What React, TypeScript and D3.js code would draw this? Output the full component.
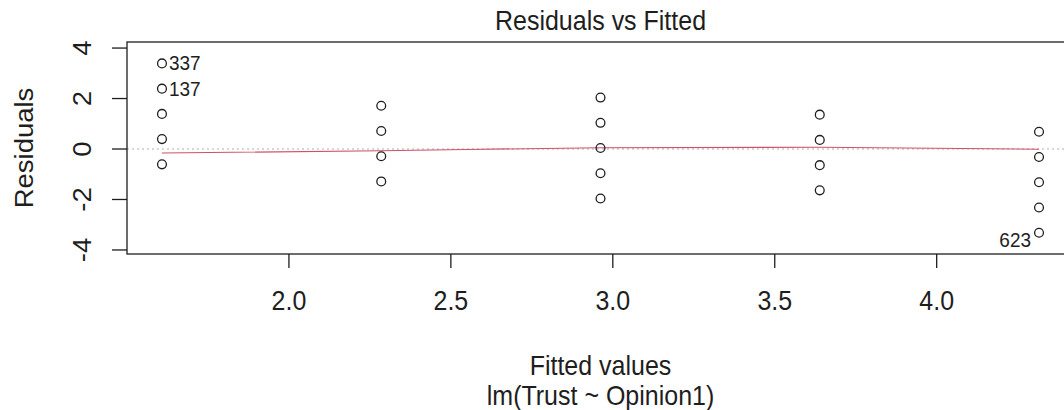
import React, { useEffect } from "react";
import * as d3 from "d3";

const fittedLevels = [1.608, 2.285, 2.962, 3.639, 4.316];
const residualsByLevel = [
  [3.392, 2.392, 1.392, 0.392, -0.608],
  [1.715, 0.715, -0.285, -1.285],
  [2.038, 1.038, 0.038, -0.962, -1.962],
  [1.361, 0.361, -0.639, -1.639],
  [0.684, -0.316, -1.316, -2.316, -3.316],
];
const smoothValues = [-0.16, -0.07, 0.05, 0.07, -0.01];
const labeledPoints = [
  { id: "337", level: 0, r: 3.392, side: "right" },
  { id: "137", level: 0, r: 2.392, side: "right" },
  { id: "623", level: 4, r: -3.316, side: "left" },
];
const xTicks = [2.0, 2.5, 3.0, 3.5, 4.0];
const yTicks = [-4, -2, 0, 2, 4];
const xDomain = [1.5, 4.424];
const yDomain = [-4.16, 4.24];

const W = 1064;
const H = 410;
const FONT = "'Liberation Sans', Arial, Helvetica, sans-serif";
const INK = "#1e1e1e";
const SY = 1.1;

function T({
  x,
  y,
  rot = 0,
  anchor = "middle",
  size = 25,
  children,
}: {
  x: number;
  y: number;
  rot?: number;
  anchor?: string;
  size?: number;
  children: React.ReactNode;
}) {
  return (
    <text
      transform={`translate(${x},${y}) scale(1,${SY}) rotate(${rot})`}
      textAnchor={anchor}
      fontFamily={FONT}
      fontSize={size}
      fill={INK}
    >
      {children}
    </text>
  );
}

export default function App() {
  useEffect(() => {
    document.body.style.margin = "0";
  }, []);

  const x = d3.scaleLinear().domain(xDomain).range([127, 1074]);
  const y = d3.scaleLinear().domain(yDomain).range([254, 42]);

  const points: { fx: number; r: number }[] = [];
  fittedLevels.forEach((fx, i) =>
    residualsByLevel[i].forEach((r) => points.push({ fx, r }))
  );

  const smoothLine = d3
    .line<number>()
    .x((_, i) => x(fittedLevels[i]))
    .y((d) => y(d))
    .curve(d3.curveMonotoneX)(smoothValues);

  const [x0, x1] = x.range();
  const [yb, yt] = y.range();
  const cx = (x0 + x1) / 2;

  return (
    <svg width={W} height={H} style={{ display: "block", background: "#fff" }}>
      <T x={cx} y={30}>Residuals vs Fitted</T>

      <line
        x1={x0}
        x2={x1}
        y1={y(0)}
        y2={y(0)}
        stroke="#b0b0b0"
        strokeWidth={1}
        strokeDasharray="2,3"
      />

      <path d={smoothLine || ""} fill="none" stroke="#D0506A" strokeWidth={1.1} />

      {points.map((p, i) => (
        <circle
          key={i}
          cx={x(p.fx)}
          cy={y(p.r)}
          r={4.4}
          fill="none"
          stroke={INK}
          strokeWidth={1.3}
        />
      ))}

      {labeledPoints.map((lp) => {
        const px = x(fittedLevels[lp.level]);
        const py = y(lp.r);
        const right = lp.side === "right";
        return (
          <T
            key={lp.id}
            x={right ? px + 7 : px - 8}
            y={right ? py + 7 : py + 14}
            anchor={right ? "start" : "end"}
            size={19}
          >
            {lp.id}
          </T>
        );
      })}

      <rect
        x={x0}
        y={yt}
        width={x1 - x0}
        height={yb - yt}
        fill="none"
        stroke={INK}
        strokeWidth={1.3}
      />

      {xTicks.map((t) => (
        <g key={t}>
          <line x1={x(t)} x2={x(t)} y1={yb} y2={yb + 14} stroke={INK} strokeWidth={1.3} />
          <T x={x(t)} y={310}>{d3.format(".1f")(t)}</T>
        </g>
      ))}

      {yTicks.map((t) => (
        <g key={t}>
          <line x1={x0 - 15} x2={x0} y1={y(t)} y2={y(t)} stroke={INK} strokeWidth={1.3} />
          <T x={91} y={y(t)} rot={-90}>{t}</T>
        </g>
      ))}

      <T x={33} y={(yt + yb) / 2} rot={-90}>Residuals</T>

      <T x={cx} y={375}>Fitted values</T>
      <T x={cx} y={405}>lm(Trust ~ Opinion1)</T>
    </svg>
  );
}
